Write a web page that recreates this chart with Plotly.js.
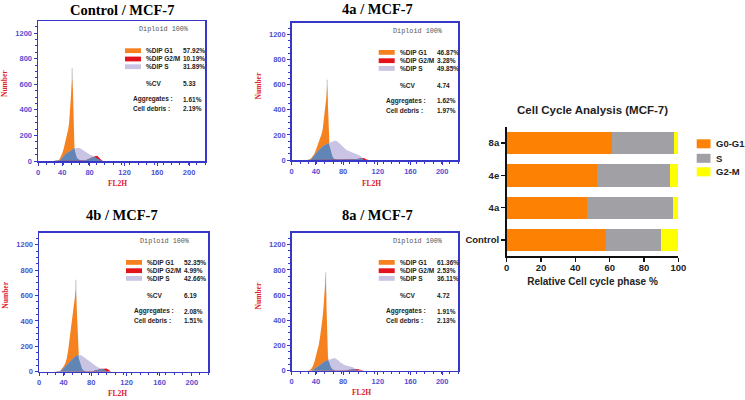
<!DOCTYPE html>
<html><head><meta charset="utf-8">
<script src="https://cdn.plot.ly/plotly-3.0.1.min.js"></script>
<style>html,body{margin:0;padding:0;background:#fff}#chart{width:745px;height:400px}</style>
</head><body><div id="chart"></div>
<script>
// ---------- DATA ----------
const panelNames = ['Control', '4a', '4b', '8a'];
const barCategories = ['Control', '4a', '4e', '8a'];
const g1Pct = [57.92, 46.87, 52.35, 61.36];
const g2mPct = [10.19, 3.28, 4.99, 2.53];
const sPct = [31.89, 49.85, 42.66, 36.11];
const cvVals = [5.33, 4.74, 6.19, 4.72];
const aggVals = [1.61, 1.62, 2.08, 1.91];
const debrisVals = [2.19, 1.97, 1.51, 2.13];

const xTickText = ['0', '40', '80', '120', '160', '200'];
const yTickText = ['0', '200', '400', '600', '800', '1200'];

// FL2H channel grid of the histograms
const fl2h = [20,22,24,26,28,30,32,34,36,38,39,40,41,42,43,44,45,46,47,48,49,50,51,52,54,56,58,60,62,64,66,68,70,72,74,76,78,80,82,84,86,88,90,92,94,96,98,100,102];

const ctrlG1 = [0,0,0,3,10,30,60,100,145,190, 215,255,300,370,440,520,645,560,210,110,70,45,30,20, 8,3,0, 0,0,0,0,0,0,0,0,0,0,0,0,0,0,0,0,0,0,0,0,0,0];
const ctrlS  = [0,0,0,0,4,12,28,42,52,62, 66,72,76,80,84,88,92,95,97,99,100,101,102,103, 104,98,90,80,70,61,55,50,46,40,33,25,18,10,4,0,0,0,0,0,0,0,0,0,0];
const ctrlG2 = [0,0,0,0,0,0,0,0,0,0, 0,0,0,0,0,0,0,0,0,0,0,0,0,0, 0,0,0, 0,3,8,15,20,26,30,36,40,42,30,15,4,0,0,0,0,0,0,0,0,0];
const ctrlRawX = [44.4, 45, 45.6];
const ctrlRaw  = [560, 726, 600];

const a4G1 = [0,2,5,15,30,50,80,115,140,170, 190,215,245,290,340,395,450,510,595,420,170,110,75,50, 25,10,4, 0,0,0,0,0,0,0,0,0,0,0,0,0,0,0,0,0,0,0,0,0,0];
const a4S  = [0,0,0,8,20,35,52,68,82,95, 100,106,110,114,118,121,124,127,130,132,135,138,141,144, 149,152,153,150,140,128,115,102,92,82,76,71,67,64,61,57,52,45,36,26,8,0,0,0,0];
const a4G2 = [0,0,0,0,0,0,0,0,0,0, 0,0,0,0,0,0,0,0,0,0,0,0,0,0, 0,0,0,0,0,0,0,0,0,0,0,0,0, 2,4,6,8,10,12,14,16,15,6,0,0];
const a4RawX = [46.4, 47, 47.6];
const a4Raw  = [520, 640, 470];

const b4G1 = [0,0,0,3,10,22,40,65,100,170, 220,275,320,350,400,440,490,540,600,650,520,320,150,100, 55,25,10,3,0,0,0,0,0,0,0,0,0,0,0,0,0,0,0,0,0,0,0,0,0];
const b4S  = [0,0,0,0,5,15,28,40,53,65, 72,78,85,92,98,104,110,116,121,126,128,130,131,132, 132,126,118,110,100,92,82,72,62,52,44,37,32,27,23,19,12,4,0,0,0,0,0,0,0];
const b4G2 = [0,0,0,0,0,0,0,0,0,0, 0,0,0,0,0,0,0,0,0,0,0,0,0,0, 0,0,0,0,0,0,0,0, 3,8,12,16,19,21,23,24,25,25,18,6,0,0,0,0,0];
const b4RawX = [47.4, 48, 48.6];
const b4Raw  = [600, 724, 560];

const a8G1 = [0,0,5,15,35,70,110,150,210,290, 330,380,430,500,580,670,760,520,180,110,75,50,35,25, 12,5,0,0,0,0,0,0,0,0,0,0,0,0,0,0,0,0,0,0,0,0,0,0,0];
const a8S  = [0,0,0,0,8,15,22,30,40,50, 55,60,64,67,71,74,77,79,82,85,88,91,94,96, 99,100,97,90,80,68,58,50,45,42,40,38,35,30,24,16,8,0,0,0,0,0,0,0,0];
const a8G2 = [0,0,0,0,0,0,0,0,0,0, 0,0,0,0,0,0,0,0,0,0,0,0,0,0, 0,0,0,0,0,0,0,0, 2,4,6,8,10,11,12,13,13,12,8,3,0,0,0,0,0];
const a8RawX = [44.4, 45, 45.6];
const a8Raw  = [700, 780, 560];

// ---------- STYLE / LAYOUT ----------
const W = 745, H = 400;
const px = p => p / W;
const py = p => 1 - p / H;
const C = {g1:'#f5821f', s:'#c9c4e4', g2:'#e3131b', ov:'#6185b5', raw:'#d2d2d2', frame:'#3838c8', tick:'#4f4fd2', red:'#e0202a'};

const panels = [
  {g1:ctrlG1, s:ctrlS, g2:ctrlG2, rx:ctrlRawX, ry:ctrlRaw},
  {g1:a4G1, s:a4S, g2:a4G2, rx:a4RawX, ry:a4Raw},
  {g1:b4G1, s:b4S, g2:b4G2, rx:b4RawX, ry:b4Raw},
  {g1:a8G1, s:a8S, g2:a8G2, rx:a8RawX, ry:a8Raw}
];
const frames = [[38,21,205,161],[291.7,22.7,458,160],[39,232.7,208,371.7],[291.7,232.7,458,370.7]];
const titlePos = [[122,10],[377,9],[122,215],[377,215]];
const fl2hPos = [[117.5,183],[371,183],[117.5,393],[361,392.3]];
const xTickPos = [0, 32, 68, 114, 157, 199];

const traces = [];
const layout = {
  width: W, height: H, margin:{l:0,r:0,t:0,b:0},
  paper_bgcolor:'#ffffff', plot_bgcolor:'rgba(0,0,0,0)',
  font:{family:'Liberation Sans, Arial, sans-serif', color:'#111'},
  barmode:'stack', bargap:0.31,
  showlegend:false,
  annotations:[], shapes:[]
};

panels.forEach((P, i) => {
  const sfx = i === 0 ? '' : String(i + 1);
  const xa = 'x' + sfx, ya = 'y' + sfx;
  const [fl, ft, fr, fb] = frames[i];
  const ov1 = P.g1.map((v, k) => Math.min(v, P.s[k]));
  const ov2 = P.g2.map((v, k) => Math.min(v, P.s[k]));
  const base = {type:'scatter', mode:'lines', fill:'tozeroy', xaxis:xa, yaxis:ya, showlegend:false, hoverinfo:'skip'};
  traces.push({...base, x:P.rx, y:P.ry, fillcolor:C.raw, line:{width:0.6, color:'#c4c4c4'}});
  traces.push({...base, x:fl2h, y:P.g1, fillcolor:C.g1, line:{width:0, color:C.g1}});
  traces.push({...base, x:fl2h, y:P.s, fillcolor:C.s, line:{width:0, color:C.s}});
  traces.push({...base, x:fl2h, y:ov1, fillcolor:C.ov, line:{width:0, color:C.ov}});
  traces.push({...base, x:fl2h, y:P.g2, fillcolor:C.g2, line:{width:0, color:C.g2}});
  traces.push({...base, x:fl2h, y:ov2, fillcolor:C.ov, line:{width:0, color:C.ov}});

  layout['xaxis' + sfx] = {
    domain:[px(fl), px(fr)], anchor:ya, range:[0,220], showgrid:false, zeroline:false,
    showline:true, mirror:true, linecolor:C.frame, linewidth:1.5,
    ticks:'outside', ticklen:3, tickwidth:1, tickcolor:C.frame,
    tickmode:'array', tickvals:xTickPos, ticktext:xTickText,
    tickfont:{size:7.5, color:C.tick, weight:'bold', family:'Liberation Sans, Arial'},
    minor:{tickmode:'linear', tick0:0, dtick:11, ticks:'outside', ticklen:2, tickcolor:C.frame},
    fixedrange:true
  };
  layout['yaxis' + sfx] = {
    domain:[py(fb), py(ft)], anchor:xa, range:[0,1095], showgrid:false, zeroline:false,
    showline:true, mirror:true, linecolor:C.frame, linewidth:1.5,
    ticks:'outside', ticklen:3, tickwidth:1, tickcolor:C.frame,
    tickmode:'array', tickvals:[0,200,400,600,800,1000], ticktext:yTickText,
    tickfont:{size:7.5, color:C.tick, weight:'bold', family:'Liberation Sans, Arial'},
    minor:{tickmode:'linear', tick0:0, dtick:50, ticks:'outside', ticklen:2, tickcolor:C.frame},
    fixedrange:true
  };

  const A = layout.annotations, S = layout.shapes;
  const ann = (x, y, text, o) => A.push(Object.assign({xref:'paper', yref:'paper', x:px(x), y:py(y), text, showarrow:false,
      xanchor:'left', yanchor:'middle', font:{size:6.5, weight:'bold', color:'#222', family:'Liberation Sans, Arial'}}, o || {}));
  // title
  ann(titlePos[i][0], titlePos[i][1], panelNames[i] + ' / MCF-7', {xanchor:'center',
      font:{size:14.5, weight:'bold', color:'#000', family:'Liberation Serif, Times New Roman, serif'}});
  // axis titles
  ann(fl2hPos[i][0], fl2hPos[i][1], 'FL2H', {xanchor:'center',
      font:{size:7.5, weight:'bold', color:C.red, family:'Liberation Serif, serif'}});
  ann(fl - 33, ft + 63, 'Number', {xanchor:'center', textangle:-90,
      font:{size:7.5, weight:'bold', color:C.red, family:'Liberation Serif, serif'}});
  // info box
  ann(fl + 126, ft + 8.3, 'Diploid 100%', {xanchor:'center', font:{size:6.8, color:'#555', family:'Liberation Mono, DejaVu Sans Mono, monospace'}});
  const rows = [ft + 29.7, ft + 38, ft + 45.7];
  const sw = [C.g1, C.g2, C.s];
  const lab = ['%DIP G1', '%DIP G2/M', '%DIP S'];
  const val = [g1Pct[i], g2mPct[i], sPct[i]];
  rows.forEach((ry, k) => {
    S.push({type:'rect', xref:'paper', yref:'paper', x0:px(fl + 87), x1:px(fl + 103), y0:py(ry + 2.4), y1:py(ry - 2.4),
            fillcolor:sw[k], line:{width:0}});
    ann(fl + 106, ry, lab[k]);
    ann(fl + 143, ry, val[k].toFixed(2) + '%');
  });
  ann(fl + 106, ft + 62.3, '%CV');
  ann(fl + 143, ft + 62.3, cvVals[i].toFixed(2));
  ann(fl + 92.7, ft + 78.3, 'Aggregates :');
  ann(fl + 143, ft + 78.3, aggVals[i].toFixed(2) + '%');
  ann(fl + 92.7, ft + 87.3, 'Cell debris :');
  ann(fl + 143, ft + 87.3, debrisVals[i].toFixed(2) + '%');
});

// ---------- BAR CHART ----------
const barColors = ['#fd8204', '#a0a0a5', '#ffff00'];
const barNames = ['G0-G1', 'S', 'G2-M'];
const barSeries = [g1Pct, sPct, g2mPct];
barSeries.forEach((vals, k) => {
  traces.push({type:'bar', orientation:'h', y:barCategories, x:vals, name:barNames[k],
    marker:{color:barColors[k], line:{width:0}}, xaxis:'x5', yaxis:'y5', hoverinfo:'skip'});
});
layout.xaxis5 = {
  domain:[px(506.7), px(678.3)], anchor:'y5', range:[0,100], dtick:20, showgrid:false, zeroline:false,
  showline:true, linecolor:'#111', linewidth:1.6, ticks:'outside', ticklen:4, tickwidth:1.5, tickcolor:'#111',
  tickfont:{size:9.5, weight:'bold', color:'#222'}, ticklabelstandoff:-2,
  title:{text:'Relative Cell cycle phase %', font:{size:10, weight:'bold', color:'#222'}, standoff:6},
  fixedrange:true
};
layout.yaxis5 = {
  domain:[py(256), py(127)], anchor:'x5', type:'category', categoryorder:'array', categoryarray:barCategories,
  range:[-0.5, 3.5], showgrid:false, zeroline:false,
  showline:true, linecolor:'#111', linewidth:1.6, ticks:'outside', ticklen:4, tickwidth:1.5, tickcolor:'#111',
  tickfont:{size:9.5, weight:'bold', color:'#222'}, fixedrange:true
};
layout.annotations.push({xref:'paper', yref:'paper', x:px(592), y:py(110), text:'Cell Cycle Analysis (MCF-7)',
  showarrow:false, xanchor:'center', yanchor:'middle', font:{size:11.5, weight:'bold', color:'#222'}});
// manual legend (swatches + labels)
const legRows = [143.8, 158.3, 171.8];
barNames.forEach((nm, k) => {
  layout.shapes.push({type:'rect', xref:'paper', yref:'paper', x0:px(696.7), x1:px(710.5),
    y0:py(legRows[k] + 4.5), y1:py(legRows[k] - 4.5), fillcolor:barColors[k], line:{width:0}});
  layout.annotations.push({xref:'paper', yref:'paper', x:px(714), y:py(legRows[k]), text:nm, showarrow:false,
    xanchor:'left', yanchor:'middle', font:{size:9.5, weight:'bold', color:'#222'}});
});

Plotly.newPlot('chart', traces, layout, {staticPlot:true, displayModeBar:false});
</script></body></html>
